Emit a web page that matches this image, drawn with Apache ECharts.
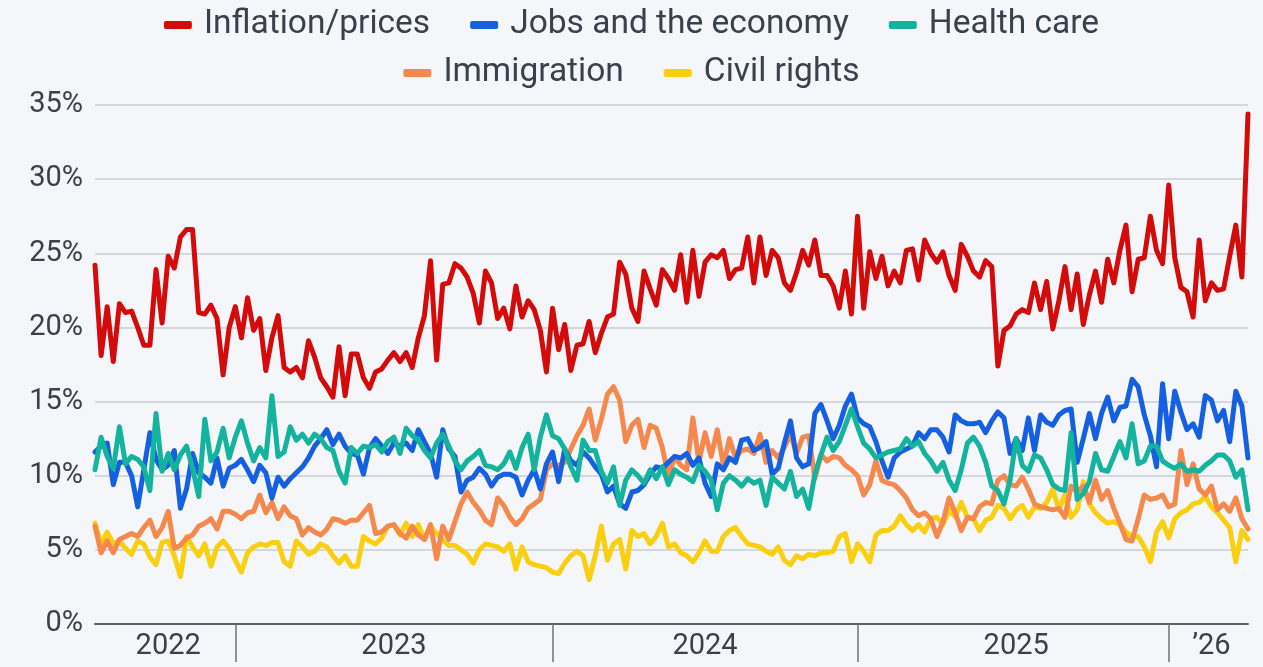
<!DOCTYPE html>
<html>
<head>
<meta charset="utf-8">
<script src="https://cdn.jsdelivr.net/npm/echarts@6/dist/echarts.min.js"></script>
<style>
html,body{margin:0;padding:0;background:#f4f6f9;}
#chart{width:1263px;height:667px;}
</style>
</head>
<body>
<div id="chart"></div>
<script>
// Weekly share (%) naming each issue as most important
const inflation = [
24.2,18.1,21.4,17.7,21.6,21.0,21.1,20.0,18.8,18.8,23.9,20.3,24.8,24.0,26.1,26.6,26.6,21.0,20.9,21.5,
20.6,16.8,20.0,21.4,19.3,22.0,19.8,20.6,17.1,19.3,20.8,17.3,17.0,17.3,16.6,19.1,18.0,16.6,16.0,15.3,
18.7,15.4,18.2,18.2,16.6,15.9,17.0,17.2,17.8,18.3,17.7,18.3,17.3,19.3,20.8,24.5,17.8,22.9,23.0,24.3,
24.0,23.4,22.3,20.3,23.8,
23.0,20.6,21.3,19.9,22.8,20.7,21.8,21.2,19.8,17.0,21.3,18.5,20.2,17.1,18.8,18.9,20.4,18.3,19.6,20.7,
20.9,24.4,23.6,21.3,20.4,23.8,22.6,21.5,23.9,23.3,22.5,24.9,21.7,25.2,22.1,24.4,24.9,24.7,25.2,23.3,
23.9,24.0,26.1,23.0,26.1,23.5,25.2,24.7,23.0,22.5,23.7,25.2,24.2,25.9,23.5,23.5,22.8,21.3,23.8,20.9,
27.5,21.3,25.1,23.3,
24.8,22.8,23.8,23.0,25.2,25.3,23.2,25.9,25.0,24.4,25.1,23.5,22.5,25.6,24.8,23.8,23.4,24.5,24.1,17.4,
19.8,20.1,20.9,21.2,21.0,23.0,21.2,23.1,19.9,21.8,24.1,21.2,23.6,20.2,22.2,23.8,21.7,24.6,23.0,25.2,
26.9,22.4,24.6,24.7,27.5,25.2,24.3,29.6,24.7,22.7,22.4,20.7,25.9,21.8,23.0,22.5,22.6,24.8,26.9,23.4,
34.4
];
const jobs = [
11.6,12.0,12.2,9.4,10.9,10.9,10.0,7.9,10.4,12.9,11.1,10.4,10.7,11.7,7.8,9.1,11.5,10.2,9.9,9.5,
11.2,9.3,10.5,10.7,11.1,10.4,9.6,10.7,10.2,8.5,9.9,9.3,9.8,10.2,10.6,11.2,12.0,12.5,13.1,12.1,
12.8,12.0,11.5,11.4,10.1,11.9,12.5,12.0,
11.5,12.2,12.0,12.2,11.7,13.1,12.3,11.5,9.9,13.1,11.8,11.3,8.9,9.7,9.9,10.5,10.1,9.3,9.9,10.1,
10.1,9.9,8.7,9.7,10.4,9.1,10.8,11.6,9.6,11.8,11.0,10.7,11.6,11.2,10.6,10.1,8.9,9.3,8.1,7.8,
8.9,9.0,9.4,10.1,10.6,10.5,10.9,11.3,
11.2,11.5,10.7,11.2,9.5,8.6,10.8,10.4,11.2,10.9,12.4,12.5,11.7,11.9,12.3,10.1,10.5,12.2,13.7,11.2,
10.6,10.8,14.2,14.8,13.7,12.5,13.4,14.7,15.5,13.9,13.5,13.3,12.3,11.0,9.9,11.2,11.6,11.8,12.0,12.9,
12.5,13.1,13.1,12.6,11.6,14.1,13.7,13.5,
13.5,13.6,12.9,13.7,14.3,13.9,11.5,12.5,11.7,13.9,11.7,14.1,13.6,13.4,14.1,14.4,14.5,10.9,12.5,14.2,
12.5,14.2,15.3,13.7,14.6,14.7,16.5,16.0,14.1,12.7,10.6,16.2,12.5,15.7,14.3,13.1,13.5,12.6,15.4,15.1,
13.7,14.4,12.3,15.7,14.7,11.2
];
const healthCare = [
10.4,12.6,11.3,10.5,13.3,10.8,11.3,11.1,10.6,9.0,14.2,10.3,11.5,10.4,11.4,12.0,10.5,8.6,13.8,11.0,
11.6,13.2,11.2,12.6,13.7,12.2,11.0,11.9,11.2,15.4,11.3,11.6,13.3,12.4,12.8,12.2,12.8,12.5,11.9,11.7,
10.3,9.5,11.9,11.5,12.0,11.9,12.1,11.6,
12.3,12.6,11.5,13.2,12.7,12.4,11.7,11.2,12.2,12.8,12.0,11.0,10.4,11.0,11.3,11.7,10.7,10.6,10.4,10.8,
11.6,10.5,11.9,12.8,10.4,12.6,14.1,12.7,12.5,11.8,10.6,9.7,12.4,11.7,11.7,10.3,9.5,10.6,8.0,9.7,
10.4,10.0,9.5,10.4,9.8,10.6,9.4,10.4,
10.1,9.9,9.6,10.7,10.3,9.7,7.7,9.5,10.0,9.7,9.3,9.8,9.5,9.7,8.0,9.9,9.5,9.1,10.3,8.6,
9.1,7.8,10.1,11.4,12.6,11.7,12.3,13.4,14.5,13.3,12.2,11.8,11.2,11.4,11.6,11.7,11.8,12.5,12.0,12.3,
11.5,11.0,10.3,10.9,9.7,9.0,10.4,12.2,
12.6,12.0,10.9,9.3,9.0,8.1,9.7,12.5,10.7,10.3,11.4,11.2,10.4,9.4,9.1,9.0,12.9,8.4,8.8,9.6,
11.5,10.4,10.3,11.3,12.3,11.2,13.5,10.8,11.0,12.0,12.0,11.0,10.7,10.5,10.8,10.3,10.4,10.3,10.7,11.0,
11.4,11.4,11.0,9.9,10.4,7.7
];
const immigration = [
6.6,4.8,5.6,4.8,5.7,5.9,6.1,5.9,6.5,7.0,5.9,6.5,7.6,5.1,5.3,5.8,6.0,6.6,6.8,7.1,
6.4,7.6,7.6,7.4,7.1,7.5,7.6,8.7,7.5,8.2,7.1,7.9,7.3,7.1,6.0,6.5,6.2,6.0,6.4,7.1,
7.0,6.8,7.0,7.0,7.5,8.0,6.1,6.2,
6.6,6.7,6.1,5.8,6.6,6.0,5.7,6.7,4.4,6.6,5.7,6.9,8.1,8.9,8.2,7.7,7.0,6.7,8.5,8.0,
7.2,6.7,7.1,7.8,8.1,8.4,10.4,10.8,10.7,10.9,11.8,12.7,13.4,14.5,12.4,13.8,15.5,16.0,15.1,12.3,
13.4,13.8,11.9,13.4,13.2,11.9,9.9,11.3,
10.7,10.4,13.9,10.9,12.9,11.3,13.1,10.7,12.5,11.2,11.7,11.8,11.5,12.8,10.9,11.7,11.2,11.9,12.8,11.5,
12.6,12.7,9.8,11.4,11.0,11.3,11.2,10.7,10.4,10.0,8.7,9.4,11.0,9.7,9.5,9.4,9.0,8.5,7.7,7.3,
7.5,7.1,5.9,6.9,8.5,7.5,6.3,7.2,
7.1,7.9,8.2,8.1,9.7,10.0,9.4,9.3,9.9,9.1,8.1,7.9,7.8,7.7,7.8,7.2,9.3,8.9,9.3,8.2,
9.7,8.4,9.0,7.8,6.8,5.7,5.6,7.1,8.7,8.4,8.5,8.7,7.9,8.1,11.7,9.4,10.8,9.1,8.7,9.3,
7.7,8.1,7.6,8.5,7.1,6.4
];
const civilRights = [
6.8,5.4,6.2,5.4,5.6,5.1,4.7,5.6,5.4,4.5,4.0,5.5,5.6,4.6,3.2,5.9,5.2,4.6,5.4,3.9,
5.2,5.6,5.1,4.3,3.5,4.8,5.2,5.4,5.3,5.5,5.5,4.2,3.9,5.6,5.2,4.7,4.9,5.4,5.2,4.6,
4.1,4.6,3.9,3.9,5.9,5.6,5.4,5.8,
6.6,6.7,6.0,6.8,5.9,6.7,5.7,6.6,6.1,5.7,5.3,5.3,5.0,4.7,4.1,5.0,5.4,5.3,5.2,4.9,
5.4,3.7,5.2,4.2,4.0,3.9,3.8,3.5,3.4,4.1,4.6,4.9,4.6,3.0,4.6,6.6,4.3,5.4,5.7,3.7,
6.3,5.9,6.1,5.4,5.9,6.8,5.2,5.4,
4.8,4.6,4.2,4.8,5.6,4.9,4.9,5.9,6.3,6.5,5.9,5.4,5.3,5.2,4.9,4.7,5.2,4.3,4.0,4.6,
4.4,4.7,4.6,4.8,4.8,4.9,5.9,6.1,4.2,5.4,4.9,4.2,6.0,6.3,6.3,6.6,7.3,6.7,6.3,6.7,
6.2,7.1,7.2,6.7,7.7,7.2,8.2,7.2,
7.1,6.3,7.0,7.2,8.0,7.8,7.1,7.7,8.0,7.2,7.9,7.8,8.2,9.1,7.7,8.7,7.2,7.7,9.6,8.1,
7.5,7.1,6.8,6.9,6.7,6.2,5.9,5.9,5.2,4.2,6.2,6.9,5.8,7.1,7.5,7.7,8.1,8.2,8.6,7.9,
7.5,7.0,6.5,4.2,6.3,5.7
];
// x-axis: index of the first week of each new year, and the year labels
const yearStartIdx = [23, 75, 125, 176];
const yearLabels = ['2022', '2023', '2024', '2025', '\u201926'];
const yTicks = [0, 5, 10, 15, 20, 25, 30, 35];

const weeks = inflation.map((_, i) => 'Week ' + (i + 1));
const bounds = [0].concat(yearStartIdx, [weeks.length - 1]);
const labelIdx = yearLabels.map((_, k) => Math.round((bounds[k] + bounds[k + 1]) / 2));

const names = ['Inflation/prices', 'Jobs and the economy', 'Health care', 'Immigration', 'Civil rights'];
const colors = ['#d40b0b', '#1560e0', '#14b39d', '#f5894d', '#f9cf10'];
const zOrder = [10, 7, 8, 6, 5];
const seriesData = [inflation, jobs, healthCare, immigration, civilRights];

const font = 'Roboto';
const textColor = '#39414c';

const legendBase = {
  left: 'center', icon: 'roundRect', itemWidth: 28, itemHeight: 8, itemGap: 40,
  textStyle: { fontFamily: font, fontSize: 33.5, color: textColor, padding: [0, 0, 0, 7] }
};

const chart = echarts.init(document.getElementById('chart'));
chart.setOption({
  backgroundColor: '#f4f6f9',
  animation: false,
  color: colors,
  legend: [
    Object.assign({}, legendBase, { data: names.slice(0, 3), top: 3 }),
    Object.assign({}, legendBase, { data: names.slice(3), top: 51 })
  ],
  grid: { left: 95, right: 15, top: 105, bottom: 43, containLabel: false },
  xAxis: {
    type: 'category',
    data: weeks,
    boundaryGap: false,
    axisLine: { show: true, lineStyle: { color: '#5b6068', width: 2 } },
    axisTick: {
      show: true,
      interval: (i) => yearStartIdx.indexOf(i) >= 0,
      length: 38,
      lineStyle: { color: '#6d7278', width: 1.5 }
    },
    axisLabel: {
      interval: (i) => labelIdx.indexOf(i) >= 0,
      formatter: (v, i) => yearLabels[labelIdx.indexOf(i)],
      fontFamily: font, fontSize: 29, color: textColor, margin: 8
    },
    splitLine: { show: false }
  },
  yAxis: {
    type: 'value',
    min: yTicks[0], max: yTicks[yTicks.length - 1], interval: 5,
    axisLine: { show: false },
    axisTick: { show: false },
    axisLabel: { formatter: '{value}%', fontFamily: font, fontSize: 29, color: textColor, margin: 12 },
    splitLine: { lineStyle: { color: '#d3d8de', width: 2 } }
  },
  series: seriesData.map((d, k) => ({
    name: names[k],
    type: 'line',
    data: d,
    showSymbol: false,
    symbol: 'none',
    z: zOrder[k],
    lineStyle: { width: 5, color: colors[k], join: 'round', cap: 'round' }
  }))
});
</script>
</body>
</html>
